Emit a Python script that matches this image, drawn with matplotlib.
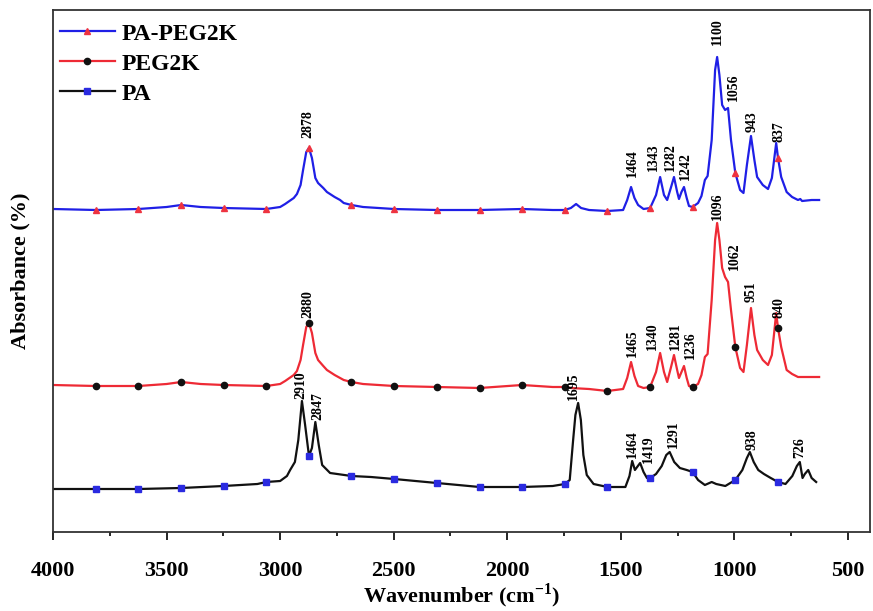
import numpy as np
import matplotlib.pyplot as plt
from matplotlib.ticker import MultipleLocator

plt.rcParams['font.family'] = ['Liberation Serif', 'DejaVu Serif']
plt.rcParams['font.weight'] = 'bold'
plt.rcParams['mathtext.fontset'] = 'custom'
plt.rcParams['mathtext.rm'] = 'Liberation Serif:bold'
plt.rcParams['mathtext.bf'] = 'Liberation Serif:bold'

# wavenumbers where the curves carry a marker
mark_wn = [3812, 3624, 3436, 3249, 3061, 2873, 2686, 2498, 2310, 2122, 1935,
           1747, 1559, 1371, 1184, 996, 808]

# PA-PEG2K (top curve, already offset)
wn_top = [4000, 3812, 3624, 3500, 3436, 3350, 3249, 3061, 3000, 2978, 2940, 2926,
          2910, 2899, 2885, 2873, 2860, 2845, 2833, 2810, 2794, 2760, 2736, 2720,
          2686, 2635, 2498, 2310, 2122, 1935, 1800, 1747, 1720, 1697, 1675, 1640,
          1559, 1490, 1472, 1455, 1440, 1424, 1400, 1371, 1345, 1327, 1310, 1296,
          1280, 1266, 1252, 1244, 1233, 1222, 1210, 1200, 1184, 1160, 1145, 1130,
          1118, 1100, 1085, 1076, 1066, 1054, 1041, 1028, 1015, 996, 975, 960,
          945, 927, 912, 900, 875, 852, 835, 816, 808, 794, 770, 746, 720, 710,
          702, 660, 627]
ab_top = [323, 322, 323, 325, 327, 325, 324, 323, 325, 328, 334, 338,
          347, 362, 380, 384, 374, 354, 349, 344, 340, 335, 332, 329,
          327, 325, 323, 322, 322, 323, 322, 322, 324, 328, 324, 322,
          321, 322, 332, 345, 334, 327, 323, 324, 337, 355, 337, 332,
          344, 355, 340, 333, 340, 345, 334, 326, 325, 329, 336, 352,
          356, 392, 462, 475, 457, 427, 422, 424, 392, 359, 342, 339,
          367, 396, 372, 355, 347, 343, 354, 389, 374, 355, 340, 335, 332, 333,
          331, 332, 332]

# PEG2K (middle curve)
wn_mid = [4000, 3812, 3624, 3500, 3436, 3350, 3249, 3061, 3000, 2978, 2940, 2926,
          2910, 2899, 2885, 2873, 2860, 2845, 2833, 2810, 2794, 2760, 2736, 2720,
          2686, 2635, 2498, 2310, 2122, 1935, 1800, 1747, 1720, 1640, 1559, 1490,
          1472, 1455, 1440, 1424, 1400, 1371, 1345, 1327, 1310, 1296, 1280, 1266,
          1252, 1244, 1233, 1222, 1210, 1200, 1184, 1160, 1145, 1130, 1118, 1100,
          1085, 1076, 1066, 1054, 1041, 1028, 1015, 996, 975, 960, 945, 927,
          912, 900, 875, 852, 835, 816, 808, 794, 770, 746, 720, 660, 627]
ab_mid = [147, 146, 146, 148, 150, 148, 147, 146, 148, 151, 157, 161,
          172, 187, 205, 209, 199, 179, 172, 166, 162, 157, 154, 152,
          150, 148, 146, 145, 144, 147, 145, 145, 144, 143, 141, 143,
          154, 170, 156, 146, 144, 145, 160, 179, 160, 150, 164, 177,
          162, 154, 160, 166, 154, 146, 145, 148, 157, 175, 178, 232,
          292, 309, 292, 264, 255, 250, 222, 185, 164, 160, 187, 224,
          197, 182, 172, 167, 177, 219, 204, 185, 162, 158, 155, 155, 155]

# PA (bottom curve)
wn_bot = [4000, 3812, 3624, 3436, 3249, 3100, 3061, 3000, 2970, 2956, 2935, 2920,
          2904, 2890, 2873, 2860, 2845, 2830, 2815, 2780, 2686, 2600, 2498, 2310,
          2122, 1935, 1800, 1747, 1725, 1710, 1700, 1688, 1676, 1665, 1650, 1620,
          1559, 1480, 1462, 1450, 1438, 1425, 1415, 1400, 1385, 1371, 1345, 1320,
          1300, 1285, 1265, 1240, 1210, 1184, 1160, 1130, 1100, 1080, 1040, 996,
          965, 945, 932, 915, 895, 870, 840, 808, 775, 745, 725, 712, 700, 690,
          675, 660, 640]
ab_bot = [43, 43, 43, 44, 46, 48, 50, 51, 56, 62, 70, 92,
          131, 107, 76, 84, 110, 87, 67, 59, 56, 55, 53, 49,
          45, 45, 46, 48, 52, 92, 117, 129, 112, 77, 57, 48,
          45, 45, 56, 71, 62, 66, 69, 60, 54, 54, 58, 66,
          77, 80, 70, 64, 62, 60, 52, 47, 50, 48, 46, 52,
          62, 74, 80, 70, 62, 58, 54, 50, 48, 56, 66, 70, 54, 58,
          62, 54, 50]

# peak labels: text, wavenumber, height of the label foot
lab_top = [('2878', 2877, 394), ('1464', 1450, 355), ('1343', 1358, 361),
           ('1282', 1283, 361), ('1242', 1217, 352), ('1100', 1076, 487),
           ('1056', 1006, 431), ('943', 922, 400), ('837', 803, 390)]
lab_mid = [('2880', 2877, 214), ('1465', 1450, 175), ('1340', 1362, 182),
           ('1281', 1261, 182), ('1236', 1195, 173), ('1096', 1076, 312),
           ('1062', 1001, 262), ('951', 926, 230), ('840', 803, 214)]
lab_bot = [('2910', 2908, 133), ('2847', 2833, 112), ('1695', 1710, 132),
           ('1464', 1450, 74), ('1419', 1380, 69), ('1291', 1270, 84),
           ('938', 922, 82), ('726', 711, 74)]

series = [('PA-PEG2K', wn_top, ab_top, '#1f1fe6', '^', '#ee3340', lab_top),
          ('PEG2K', wn_mid, ab_mid, '#ee2a35', 'o', '#111111', lab_mid),
          ('PA', wn_bot, ab_bot, '#111111', 's', '#2a2ae0', lab_bot)]

fig = plt.figure(figsize=(8.73, 6.11), dpi=100)
ax = fig.add_axes([53/873, 1-532/611, 817/873, 522/611])

for name, wn, ab, c, m, mc, labs in series:
    idx = [wn.index(w) for w in mark_wn]
    ax.plot(wn, ab, color=c, lw=1.6, label=name, marker=m, markevery=idx,
            ms=4.5, mfc=mc, mec=mc)
    for t, x, y in labs:
        ax.text(x, y, t, rotation=90, ha='center', va='bottom', fontsize=10,
                fontweight='bold')

ax.set_xlim(4000, 403)
ax.set_ylim(0, 522)
ax.xaxis.set_major_locator(MultipleLocator(500))
ax.xaxis.set_minor_locator(MultipleLocator(250))
ax.tick_params(axis='x', which='major', direction='out', length=6, width=1.2,
               labelsize=16, pad=15)
ax.tick_params(axis='x', which='minor', direction='out', length=3, width=1.2)
ax.tick_params(axis='x', top=False)
ax.set_yticks([])
for s in ax.spines.values():
    s.set_linewidth(1.3)
    s.set_color('#333333')

ax.set_xlabel('Wavenumber (cm$^{-1}$)', fontsize=16, fontweight='bold',
              labelpad=0)
ax.set_ylabel('Absorbance (%)', fontsize=16, fontweight='bold', labelpad=16)

ax.legend(loc='upper left', frameon=False, fontsize=17, handlelength=2.3,
          handletextpad=0.3, labelspacing=0.36, borderaxespad=0.0,
          borderpad=0.55, bbox_to_anchor=(-0.007, 1.0))

fig.savefig('out.png', dpi=100)
